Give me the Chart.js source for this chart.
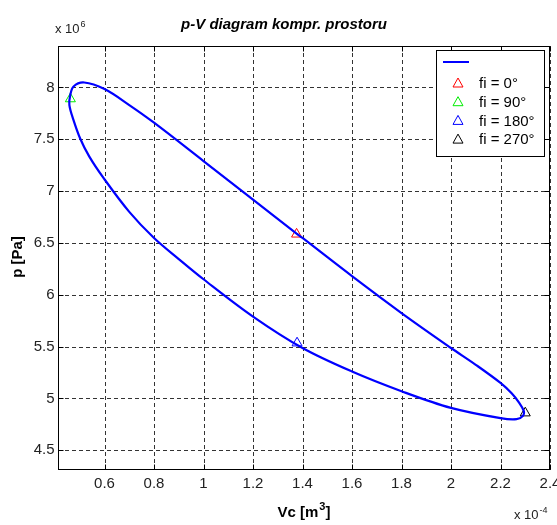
<!DOCTYPE html>
<html>
<head>
<meta charset="utf-8">
<script src="https://cdn.jsdelivr.net/npm/chart.js@4/dist/chart.umd.min.js"></script>
<style>
  html, body { margin: 0; padding: 0; background: #fff; }
  #wrap { width: 557px; height: 525px; }
</style>
</head>
<body>
<div id="wrap"><canvas id="pv" width="557" height="525"></canvas></div>
<script>
// volume of the compression space, x 1e-4 m^3 (closed loop, starts at fi = 0)
const vcData = [
  1.376, 1.200, 1.000, 0.800, 0.700, 0.600, 0.518, 0.475, 0.461, 0.458,
  0.474, 0.502, 0.538, 0.595, 0.700, 0.800, 0.900, 1.000, 1.200, 1.400,
  1.600, 1.800, 2.000, 2.200, 2.265, 2.290, 2.294, 2.275, 2.245, 2.200,
  2.100, 2.000, 1.800, 1.600, 1.400, 1.376
]
// pressure, x 1e6 Pa
const pData = [
  6.590, 6.917, 7.290, 7.660, 7.830, 7.985, 8.048, 8.010, 7.920, 7.830,
  7.690, 7.505, 7.335, 7.130, 6.800, 6.548, 6.345, 6.150, 5.790, 5.487,
  5.260, 5.070, 4.909, 4.810, 4.800, 4.830, 4.880, 4.960, 5.050, 5.150,
  5.325, 5.487, 5.824, 6.180, 6.548, 6.590
]

// crank angle markers
const phiLabels = ['fi = 0°', 'fi = 90°', 'fi = 180°', 'fi = 270°']
const phiVc = [1.376, 0.462, 1.378, 2.300]
const phiP = [6.585, 7.890, 5.535, 4.860]

const xTicks = [0.6, 0.8, 1, 1.2, 1.4, 1.6, 1.8, 2, 2.2, 2.4]
const yTicks = [4.5, 5, 5.5, 6, 6.5, 7, 7.5, 8]

const markerColors = ['#ff0000', '#00ee00', '#0000ff', '#000000']
const FONT = '"Liberation Sans", Arial, sans-serif'

function fmt(v) {
  return String(Math.round(v * 10) / 10)
}

// text with a superscript in the middle, e.g. "Vc [m" + "3" + "]"
function supText(ctx, x, y, base, sup, tail, size, weight, align) {
  const big = weight + ' ' + size + 'px ' + FONT
  const small = weight + ' ' + Math.round(size * 0.7) + 'px ' + FONT
  ctx.font = big
  const w1 = ctx.measureText(base).width
  const w3 = ctx.measureText(tail).width
  ctx.font = small
  const w2 = ctx.measureText(sup).width
  let x0 = x
  if (align === 'center') x0 = x - (w1 + w2 + w3 + 1) / 2
  ctx.textAlign = 'left'
  ctx.textBaseline = 'alphabetic'
  ctx.font = big
  ctx.fillText(base, x0, y)
  ctx.fillText(tail, x0 + w1 + w2 + 1, y)
  ctx.font = small
  ctx.fillText(sup, x0 + w1 + 1, y - size * 0.45)
}

const matlabAxes = {
  id: 'matlabAxes',
  beforeDatasetsDraw(chart) {
    const { ctx, chartArea: a, scales: { x, y } } = chart
    ctx.save()
    ctx.strokeStyle = '#333'
    ctx.lineWidth = 1
    ctx.setLineDash([4, 3])
    xTicks.forEach(t => {
      const px = Math.round(x.getPixelForValue(t)) + 0.5
      ctx.beginPath(); ctx.moveTo(px, a.top); ctx.lineTo(px, a.bottom); ctx.stroke()
    })
    yTicks.forEach(t => {
      const py = Math.round(y.getPixelForValue(t)) + 0.5
      ctx.beginPath(); ctx.moveTo(a.left, py); ctx.lineTo(a.right, py); ctx.stroke()
    })
    ctx.restore()
  },
  afterDatasetsDraw(chart) {
    const { ctx, chartArea: a, scales: { x, y } } = chart
    const L = Math.round(a.left) + 0.5, R = Math.round(a.right) - 0.5
    const T = Math.round(a.top) + 0.5, B = Math.round(a.bottom) - 0.5
    ctx.save()

    // axes box and inward ticks
    ctx.strokeStyle = '#000'
    ctx.lineWidth = 1
    ctx.strokeRect(L, T, R - L, B - T)
    ctx.beginPath()
    xTicks.forEach(t => {
      const px = Math.round(x.getPixelForValue(t)) + 0.5
      ctx.moveTo(px, B); ctx.lineTo(px, B - 5)
      ctx.moveTo(px, T); ctx.lineTo(px, T + 5)
    })
    yTicks.forEach(t => {
      const py = Math.round(y.getPixelForValue(t)) + 0.5
      ctx.moveTo(L, py); ctx.lineTo(L + 5, py)
      ctx.moveTo(R, py); ctx.lineTo(R - 5, py)
    })
    ctx.stroke()

    // tick labels
    ctx.fillStyle = '#222'
    ctx.font = '15px ' + FONT
    ctx.textAlign = 'center'
    ctx.textBaseline = 'top'
    xTicks.forEach(t => ctx.fillText(fmt(t), x.getPixelForValue(t), B + 7))
    ctx.textAlign = 'right'
    ctx.textBaseline = 'middle'
    yTicks.forEach(t => ctx.fillText(fmt(t), L - 4, y.getPixelForValue(t)))

    // exponent notes
    supText(ctx, 55, 33, 'x 10', '6', '', 13, 'normal', 'left')
    supText(ctx, 514, 519, 'x 10', '-4', '', 13, 'normal', 'left')

    // title and axis labels
    ctx.fillStyle = '#000'
    ctx.font = 'italic bold 15px ' + FONT
    ctx.textAlign = 'center'
    ctx.textBaseline = 'middle'
    ctx.fillText('p-V diagram kompr. prostoru', 284, 25)
    supText(ctx, 304, 517, 'Vc [m', '3', ']', 15, 'bold', 'center')
    ctx.restore()

    ctx.save()
    ctx.fillStyle = '#000'
    ctx.font = 'bold 15px ' + FONT
    ctx.translate(18, 257)
    ctx.rotate(-Math.PI / 2)
    ctx.textAlign = 'center'
    ctx.textBaseline = 'middle'
    ctx.fillText('p [Pa]', 0, 0)
    ctx.restore()

    // legend box
    ctx.save()
    const lx = 436.5, ly = 50.5, lw = 108, lh = 106
    ctx.fillStyle = '#fff'
    ctx.fillRect(lx, ly, lw, lh)
    ctx.strokeStyle = '#000'
    ctx.lineWidth = 1
    ctx.strokeRect(lx, ly, lw, lh)
    ctx.strokeStyle = '#0000ff'
    ctx.lineWidth = 2
    ctx.beginPath(); ctx.moveTo(443, 62); ctx.lineTo(469, 62); ctx.stroke()
    ctx.font = '15px ' + FONT
    ctx.textAlign = 'left'
    ctx.textBaseline = 'middle'
    phiLabels.forEach((lab, i) => {
      const cy = 83 + i * 18.7
      ctx.strokeStyle = markerColors[i]
      ctx.lineWidth = 1
      ctx.beginPath()
      ctx.moveTo(458, cy - 5)
      ctx.lineTo(463, cy + 4)
      ctx.lineTo(453, cy + 4)
      ctx.closePath()
      ctx.stroke()
      ctx.fillStyle = '#000'
      ctx.fillText(lab, 479, cy + 1)
    })
    ctx.restore()
  }
}

const datasets = [{
  label: '',
  data: vcData.map((v, i) => ({ x: v, y: pData[i] })),
  showLine: true,
  borderColor: '#0000ff',
  borderWidth: 2.2,
  pointRadius: 0,
  tension: 0.35,
  fill: false
}]
phiLabels.forEach((lab, i) => {
  datasets.push({
    label: lab,
    data: [{ x: phiVc[i], y: phiP[i] }],
    pointStyle: 'triangle',
    pointRadius: 5.8,
    borderColor: markerColors[i],
    backgroundColor: 'rgba(0,0,0,0)',
    borderWidth: 1
  })
})

new Chart(document.getElementById('pv'), {
  type: 'scatter',
  data: { datasets },
  options: {
    responsive: false,
    animation: false,
    layout: { padding: { left: 58, right: 7, top: 46, bottom: 55 } },
    plugins: {
      legend: { display: false },
      tooltip: { enabled: false }
    },
    scales: {
      x: {
        type: 'linear',
        min: 0.412,
        max: 2.4,
        afterBuildTicks: s => { s.ticks = xTicks.map(v => ({ value: v })) },
        ticks: { display: false },
        grid: { display: false, drawTicks: false },
        border: { display: false }
      },
      y: {
        type: 'linear',
        min: 4.31,
        max: 8.4,
        afterBuildTicks: s => { s.ticks = yTicks.map(v => ({ value: v })) },
        ticks: { display: false },
        grid: { display: false, drawTicks: false },
        border: { display: false }
      }
    }
  },
  plugins: [matlabAxes]
})
</script>
</body>
</html>
